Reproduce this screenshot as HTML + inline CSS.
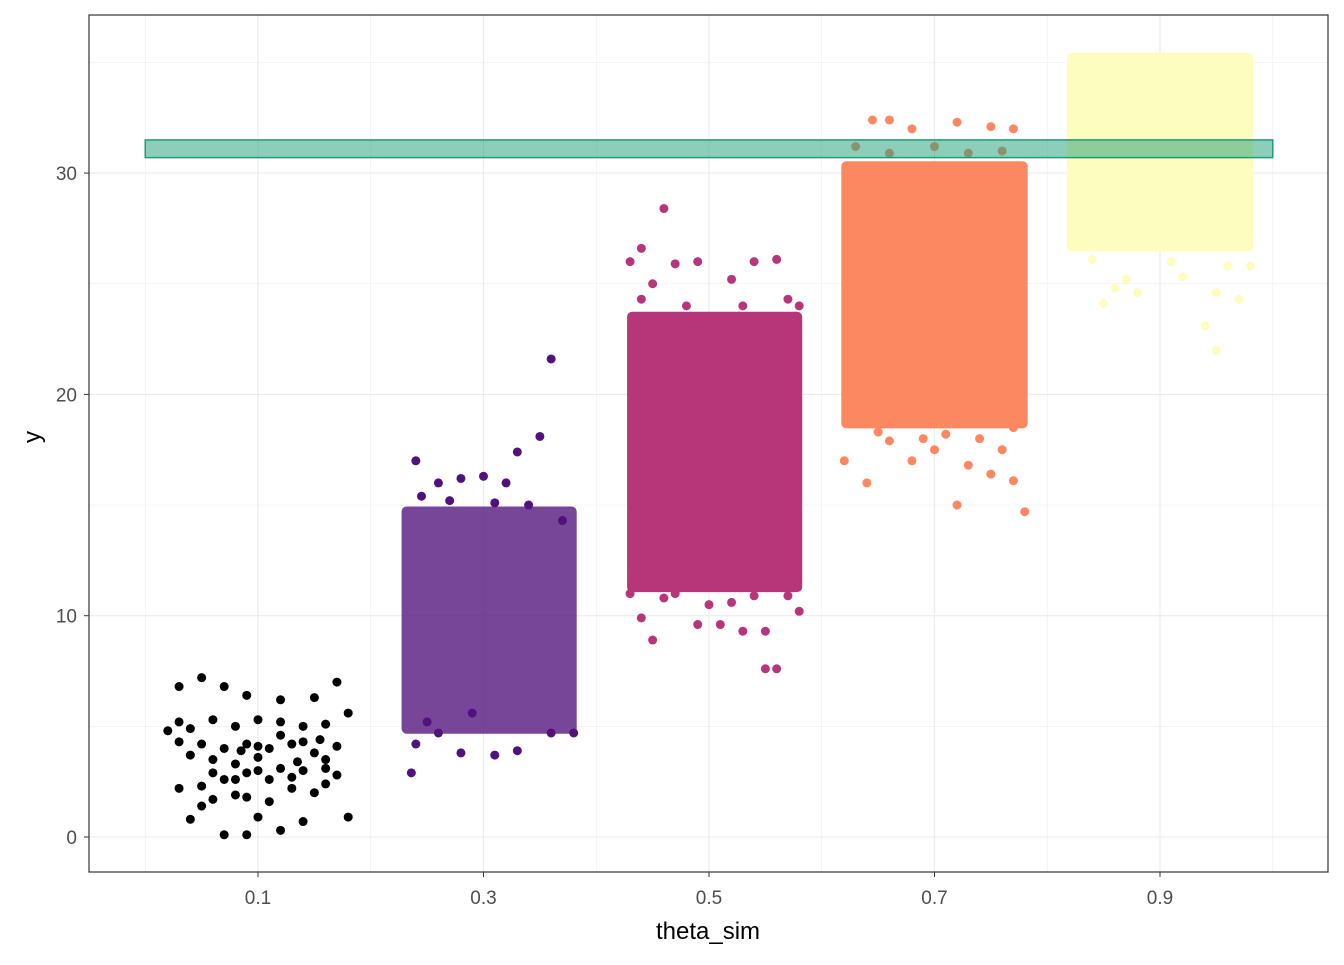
<!DOCTYPE html>
<html><head><meta charset="utf-8"><style>
body{margin:0;background:#fff}
svg text{font-family:"Liberation Sans",sans-serif}
</style></head><body>
<svg id="chart" width="1344" height="960" xmlns="http://www.w3.org/2000/svg">
<rect x="0" y="0" width="1344" height="960" fill="#fff"/>
<g id="grid"></g><g id="cores"></g><g id="pts"></g><g id="band"></g><g id="axes"></g>
</svg>
<script>
const categories=[0.1,0.3,0.5,0.7,0.9];
const colors=["#000000","#51127C","#B63679","#FB8861","#FCFDBF"];
const coreXLow=[null,0.23,0.43,0.62,0.82];
const coreXHigh=[null,0.38,0.58,0.78,0.98];
const coreLow=[null,4.8,11.2,18.6,26.6];
const coreHigh=[null,14.8,23.6,30.4,35.3];
const xTicks=[0.1,0.3,0.5,0.7,0.9];
const yTicks=[0,10,20,30];
const bandX=[0,1];
const bandY=[30.7,31.5];
const pts0=[[0.03,6.8],[0.05,7.2],[0.07,6.8],[0.09,6.4],[0.12,6.2],[0.15,6.3],[0.17,7.0],[0.18,5.6],[0.03,5.2],[0.04,4.9],[0.06,5.3],[0.08,5.0],[0.10,5.3],[0.12,5.2],[0.14,5.0],[0.16,5.1],[0.03,4.3],[0.05,4.2],[0.07,4.0],[0.09,4.2],[0.11,4.0],[0.13,4.2],[0.15,3.8],[0.17,4.1],[0.04,3.7],[0.06,3.5],[0.08,3.3],[0.10,3.6],[0.12,3.1],[0.14,3.0],[0.16,3.1],[0.17,2.8],[0.03,2.2],[0.05,2.3],[0.07,2.6],[0.09,2.9],[0.11,2.6],[0.13,2.2],[0.15,2.0],[0.16,2.4],[0.04,0.8],[0.06,1.7],[0.08,1.9],[0.09,1.8],[0.10,0.9],[0.12,0.3],[0.07,0.1],[0.09,0.1],[0.14,0.7],[0.18,0.9],[0.05,1.4],[0.11,1.6],[0.13,2.7],[0.06,2.9],[0.08,2.6],[0.10,3.0],[0.12,4.6],[0.14,4.3],[0.16,3.5],[0.02,4.8],[0.10,4.1],[0.085,3.9],[0.135,3.4],[0.155,4.4]];
const pts1=[[0.24,17.0],[0.26,16.0],[0.28,16.2],[0.30,16.3],[0.32,16.0],[0.33,17.4],[0.35,18.1],[0.36,21.6],[0.236,2.9],[0.28,3.8],[0.31,3.7],[0.33,3.9],[0.26,4.7],[0.36,4.7],[0.38,4.7],[0.25,5.2],[0.29,5.6],[0.34,15.0],[0.37,14.3],[0.245,15.4],[0.27,15.2],[0.31,15.1],[0.24,4.2]];
const pts2=[[0.46,28.4],[0.44,26.6],[0.43,26.0],[0.45,25.0],[0.47,25.9],[0.49,26.0],[0.52,25.2],[0.54,26.0],[0.56,26.1],[0.44,24.3],[0.57,24.3],[0.58,24.0],[0.44,9.9],[0.45,8.9],[0.49,9.6],[0.51,9.6],[0.53,9.3],[0.55,9.3],[0.55,7.6],[0.56,7.6],[0.58,10.2],[0.47,11.0],[0.52,10.6],[0.57,10.9],[0.43,11.0],[0.46,10.8],[0.50,10.5],[0.54,10.9],[0.48,24.0],[0.53,24.0]];
const pts3=[[0.645,32.4],[0.66,32.4],[0.68,32.0],[0.72,32.3],[0.75,32.1],[0.77,32.0],[0.63,31.2],[0.66,30.9],[0.70,31.2],[0.73,30.9],[0.76,31.0],[0.62,17.0],[0.64,16.0],[0.66,17.9],[0.68,17.0],[0.70,17.5],[0.73,16.8],[0.72,15.0],[0.75,16.4],[0.77,16.1],[0.78,14.7],[0.76,17.5],[0.69,18.0],[0.63,19.6],[0.77,18.5],[0.65,18.3],[0.71,18.2],[0.74,18.0]];
const pts4=[[0.84,26.1],[0.85,24.1],[0.86,24.8],[0.88,24.6],[0.87,25.2],[0.91,26.0],[0.92,25.3],[0.94,23.1],[0.95,22.0],[0.95,24.6],[0.97,24.3],[0.96,25.8],[0.98,25.8]];
const allPts=[pts0,pts1,pts2,pts3,pts4];

const NS="http://www.w3.org/2000/svg";
const L=89,R=1328,T=15,B=872;
function xs(v){return 258+(v-0.1)*1127.5;}
function ys(v){return 837-v*22.13;}
function mk(tag,attrs,parent){const e=document.createElementNS(NS,tag);for(const k in attrs)e.setAttribute(k,attrs[k]);document.getElementById(parent).appendChild(e);return e;}

for(let v=0;v<=1.001;v+=0.1){const major=Math.abs((v*10)%2-1)<0.01;
 const g=mk('line',{x1:xs(v),x2:xs(v),y1:T,y2:B,stroke:'#ebebeb','stroke-width':major?1.1:0.5},'grid');
 
 }
for(let v=0;v<=35;v+=5){const major=v%10===0;
 const g=mk('line',{x1:L,x2:R,y1:ys(v),y2:ys(v),stroke:'#ebebeb','stroke-width':major?1.1:0.5},'grid');
 
 }

categories.forEach((c,i)=>{if(coreLow[i]==null)return;
 const r=mk('rect',{x:xs(coreXLow[i])-3,y:ys(coreHigh[i])-3,width:xs(coreXHigh[i])-xs(coreXLow[i])+6,height:ys(coreLow[i])-ys(coreHigh[i])+6,rx:5,fill:colors[i],opacity:i===1?0.78:1},'cores');
 
 });
allPts.forEach((arr,i)=>arr.forEach(p=>{
 const c=mk('circle',{cx:xs(p[0]),cy:ys(p[1]),r:4.5,fill:colors[i]},'pts');
 
 }));
const b=mk('rect',{x:xs(bandX[0]),y:ys(bandY[1]),width:xs(bandX[1])-xs(bandX[0]),height:ys(bandY[0])-ys(bandY[1]),fill:'#1b9e77','fill-opacity':0.5,stroke:'#1b9e77','stroke-width':1.5},'band');


const fr=mk('rect',{x:L,y:T,width:R-L,height:B-T,fill:'none',stroke:'#333','stroke-width':1.2},'axes');


xTicks.forEach(v=>{mk('line',{x1:xs(v),x2:xs(v),y1:B,y2:B+5,stroke:'#333'},'axes');
 const t=mk('text',{x:xs(v),y:B+32,'text-anchor':'middle','font-size':'19',fill:'#4d4d4d'},'axes');t.textContent=v;
 
 });
yTicks.forEach(v=>{mk('line',{x1:L-5,x2:L,y1:ys(v),y2:ys(v),stroke:'#333'},'axes');
 const t=mk('text',{x:L-12,y:ys(v)+7,'text-anchor':'end','font-size':'19',fill:'#4d4d4d'},'axes');t.textContent=v;
 
 });
const xt=mk('text',{x:708,y:939,'text-anchor':'middle','font-size':'24',fill:'#000'},'axes');xt.textContent='theta_sim';


const yt=mk('text',{x:40,y:437,'text-anchor':'middle','font-size':'24',fill:'#000',transform:'rotate(-90 40 437)'},'axes');yt.textContent='y';


</script>
</body></html>
